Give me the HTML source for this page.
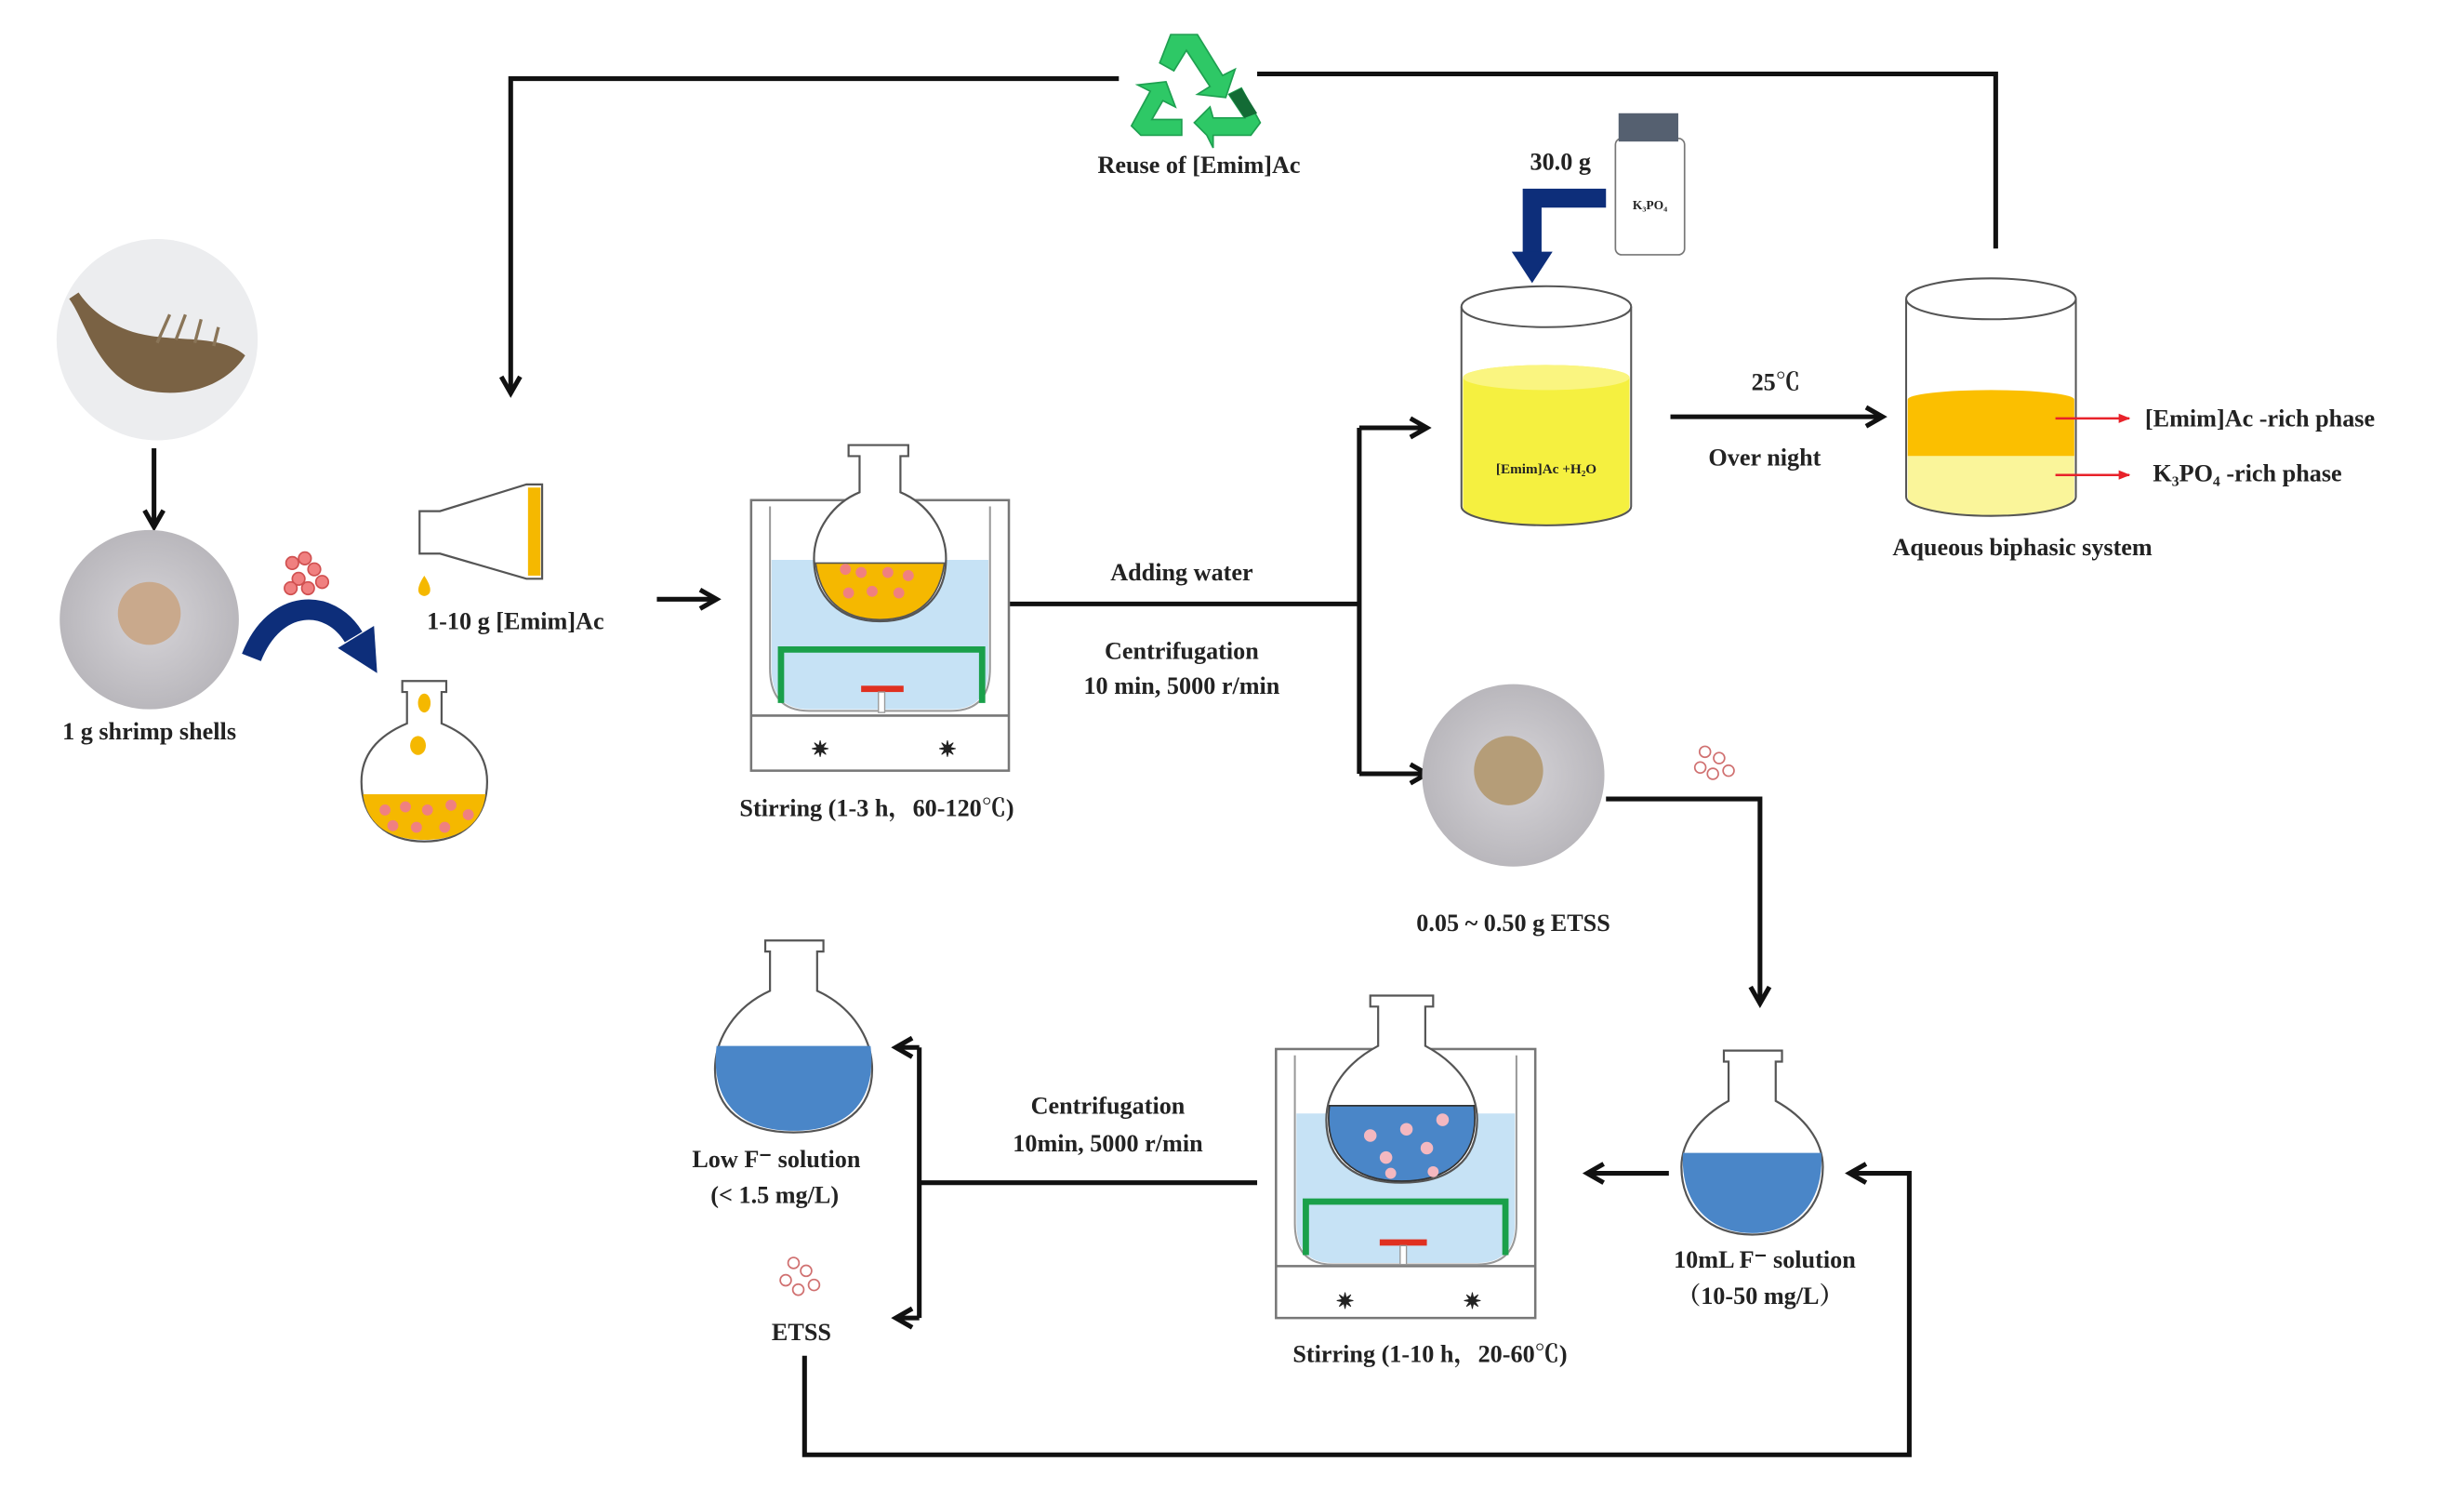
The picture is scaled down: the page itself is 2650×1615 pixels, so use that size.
<!DOCTYPE html>
<html><head><meta charset="utf-8"><style>
html,body{margin:0;padding:0;background:#fff;}
svg{display:block;}
text{font-family:"Liberation Serif","Noto Serif CJK SC",serif;font-weight:bold;fill:#222;font-size:15.5px;}
</style></head><body>
<svg width="2650" height="1615" viewBox="0 0 1568 955" preserveAspectRatio="none" xmlns="http://www.w3.org/2000/svg">
<defs>
<marker id="ah" viewBox="0 0 10 10" refX="8" refY="5" markerWidth="5" markerHeight="5" orient="auto"><path d="M1,1 L8,5 L1,9" fill="none" stroke="#111" stroke-width="2"/></marker>
<marker id="rh" viewBox="0 0 10 10" refX="9" refY="5" markerWidth="5" markerHeight="5" orient="auto"><path d="M0,1 L10,5 L0,9 z" fill="#e8222a"/></marker>
<radialGradient id="pg" cx="0.5" cy="0.5" r="0.5"><stop offset="0" stop-color="#d6d4d8"/><stop offset="1" stop-color="#b9b7bc"/></radialGradient>
</defs>
<g fill="none" stroke="#111" stroke-width="3">
<path d="M712,50 H325 V250" marker-end="url(#ah)"/>
<path d="M800,47 H1270 V158"/>
<line x1="98" y1="285" x2="98" y2="335" marker-end="url(#ah)"/>
<line x1="418" y1="381" x2="456" y2="381" marker-end="url(#ah)"/>
<path d="M642,384 H865"/>
<path d="M865,272 V492"/>
<path d="M865,272 H908" marker-end="url(#ah)"/>
<path d="M865,492 H908" marker-end="url(#ah)"/>
<line x1="1063" y1="265" x2="1198" y2="265" marker-end="url(#ah)"/>
<path d="M1022,508 H1120 V638" marker-end="url(#ah)"/>
<line x1="1062" y1="746" x2="1010" y2="746" marker-end="url(#ah)"/>
<path d="M512,862 V925 H1215 V746 H1177" marker-end="url(#ah)"/>
<path d="M800,752 H585"/>
<path d="M585,666 V838"/>
<path d="M585,666 H570" marker-end="url(#ah)"/>
<path d="M585,838 H570" marker-end="url(#ah)"/>
</g>
<g fill="#2ec866" stroke="#1ea050" stroke-width="1">
<path d="M745,22 L762,22 L778,48 L786,44 L780,62 L762,60 L770,55 L755,32 L747,45 L738,40 Z"/>
<path d="M720,80 L732,58 L724,54 L742,52 L748,68 L740,64 L733,76 L752,76 L752,86 L726,86 Z"/>
<path d="M768,86 L760,78 L770,68 L772,75 L792,75 L782,60 L790,56 L802,78 L796,86 L772,86 L772,94 Z"/>
</g>
<path d="M782,60 L790,56 L800,72 L792,75 Z" fill="#136b35"/>
<text x="763" y="110" text-anchor="middle">Reuse of [Emim]Ac</text>
<circle cx="100" cy="216" r="64" fill="#ecedef"/>
<path d="M44,190 C55,205 62,240 92,248 C120,254 145,244 156,226 C140,212 112,218 88,212 C72,208 58,198 50,186 Z" fill="#7a6244"/>
<path d="M100,218 l8,-18 M112,216 l6,-16 M124,218 l4,-15 M136,220 l3,-12" stroke="#8a7558" stroke-width="2"/>
<circle cx="95" cy="394" r="57" fill="url(#pg)"/>
<circle cx="95" cy="390" r="20" fill="#c9a98c"/>
<text x="95" y="470" text-anchor="middle">1 g shrimp shells</text>
<path d="M160,418 C175,380 210,380 225,405" fill="none" stroke="#0d2e7a" stroke-width="13"/>
<path d="M215,412 L240,428 L238,398 Z" fill="#0d2e7a"/>
<g fill="#f08080" stroke="#d05050" stroke-width="1"><circle cx="186" cy="358" r="4"/><circle cx="194" cy="355" r="4"/><circle cx="200" cy="362" r="4"/><circle cx="190" cy="368" r="4"/><circle cx="205" cy="370" r="4"/><circle cx="196" cy="374" r="4"/><circle cx="185" cy="374" r="4"/></g>
<path d="M267,325 H280 L335,308 H345 V368 H335 L280,352 H267 Z" fill="#fff" stroke="#555" stroke-width="1.3"/>
<rect x="336" y="310" width="8" height="56" fill="#f5b800"/>
<path d="M270,366 C266,372 264,378 270,379 C276,378 274,372 270,366 Z" fill="#f5b800"/>
<text x="328" y="400" text-anchor="middle">1-10 g [Emim]Ac</text>
<path d="M256,433 H284 V440 H281 V460 C300,468 310,480 310,497 C310,520 295,535 270,535 C245,535 230,520 230,497 C230,480 240,468 259,460 V440 H256 Z" fill="#fff" stroke="#555" stroke-width="1.3"/>
<path d="M231,505 H309 C307,522 295,534 270,534 C245,534 233,522 231,505 Z" fill="#f5b800"/>
<g fill="#f5b800"><ellipse cx="270" cy="447" rx="4" ry="6"/><ellipse cx="266" cy="474" rx="5" ry="6"/></g>
<g fill="#f08080"><circle cx="245" cy="515" r="3.5"/><circle cx="258" cy="513" r="3.5"/><circle cx="272" cy="515" r="3.5"/><circle cx="287" cy="512" r="3.5"/><circle cx="298" cy="518" r="3.5"/><circle cx="250" cy="525" r="3.5"/><circle cx="265" cy="526" r="3.5"/><circle cx="283" cy="526" r="3.5"/></g>
<rect x="478" y="318" width="164" height="172" fill="#fff" stroke="#777" stroke-width="1.5"/>
<line x1="478" y1="455" x2="642" y2="455" stroke="#777" stroke-width="1.5"/>
<path d="M490,322 V425 Q490,452 515,452 H605 Q630,452 630,425 V322" fill="none" stroke="#999" stroke-width="1.2"/>
<path d="M491,356 H629 V425 Q629,451 605,451 H515 Q491,451 491,425 Z" fill="#c6e2f5"/>
<path d="M497,447 V413 H625 V447" fill="none" stroke="#1aa04a" stroke-width="4"/>
<rect x="548" y="436" width="27" height="4" fill="#e03020"/>
<rect x="559" y="440" width="4" height="13" fill="#fff" stroke="#999" stroke-width="0.8"/>
<path d="M540,283 H578 V290 H573 V313 C590,320 602,337 602,355 C602,380 585,395 560,395 C535,395 518,380 518,355 C518,337 530,320 547,313 V290 H540 Z" fill="#fff" stroke="#555" stroke-width="1.3"/>
<path d="M519,358 H601 C598,380 585,394 560,394 C535,394 522,380 519,358 Z" fill="#f5b800" stroke="#555" stroke-width="1"/>
<g fill="#f08080"><circle cx="538" cy="362" r="3.5"/><circle cx="548" cy="364" r="3.5"/><circle cx="565" cy="364" r="3.5"/><circle cx="578" cy="366" r="3.5"/><circle cx="540" cy="377" r="3.5"/><circle cx="555" cy="376" r="3.5"/><circle cx="572" cy="377" r="3.5"/></g>
<text x="522" y="481" text-anchor="middle" style="font-size:14px">✷</text><text x="603" y="481" text-anchor="middle" style="font-size:14px">✷</text>
<text x="558" y="519" text-anchor="middle">Stirring (1-3 h，60-120℃)</text>
<text x="752" y="369" text-anchor="middle">Adding water</text>
<text x="752" y="419" text-anchor="middle">Centrifugation</text>
<text x="752" y="441" text-anchor="middle">10 min, 5000 r/min</text>
<rect x="1028" y="88" width="44" height="74" rx="4" fill="#fff" stroke="#777" stroke-width="1"/>
<rect x="1030" y="72" width="38" height="18" fill="#556070"/>
<text x="1050" y="133" text-anchor="middle" style="font-size:8px">K₃PO₄</text>
<text x="993" y="108" text-anchor="middle">30.0 g</text>
<path d="M1022,126 H975 V165" fill="none" stroke="#0d2e7a" stroke-width="12"/>
<path d="M962,160 L988,160 L975,180 Z" fill="#0d2e7a"/>
<path d="M931,240 A53,8 0 0 1 1037,240 V322 A53,12 0 0 1 931,322 Z" fill="#f5f040" stroke="none"/>
<ellipse cx="984" cy="240" rx="53" ry="8" fill="#faf580"/>
<path d="M930,195 V322 A54,12 0 0 0 1038,322 V195" fill="none" stroke="#555" stroke-width="1.2"/>
<ellipse cx="984" cy="195" rx="54" ry="13" fill="#fff" stroke="#555" stroke-width="1.2"/>
<text x="984" y="301" text-anchor="middle" style="font-size:9px">[Emim]Ac +H₂O</text>
<text x="1130" y="248" text-anchor="middle">25℃</text>
<text x="1123" y="296" text-anchor="middle">Over night</text>
<path d="M1214,254 A53,6 0 0 1 1320,254 V290 H1214 Z" fill="#fbbf00"/>
<path d="M1214,290 H1320 V316 A53,12 0 0 1 1214,316 Z" fill="#faf59a"/>
<path d="M1213,190 V316 A54,12 0 0 0 1321,316 V190" fill="none" stroke="#555" stroke-width="1.2"/>
<ellipse cx="1267" cy="190" rx="54" ry="13" fill="#fff" stroke="#555" stroke-width="1.2"/>
<line x1="1308" y1="266" x2="1355" y2="266" stroke="#e8222a" stroke-width="1.5" marker-end="url(#rh)"/>
<line x1="1308" y1="302" x2="1355" y2="302" stroke="#e8222a" stroke-width="1.5" marker-end="url(#rh)"/>
<text x="1365" y="271">[Emim]Ac -rich phase</text>
<text x="1370" y="306">K₃PO₄ -rich phase</text>
<text x="1287" y="353" text-anchor="middle">Aqueous biphasic system</text>
<circle cx="963" cy="493" r="58" fill="url(#pg)"/>
<circle cx="960" cy="490" r="22" fill="#b59d78"/>
<g fill="#fff" stroke="#d07070" stroke-width="1"><circle cx="1085" cy="478" r="3.5"/><circle cx="1094" cy="482" r="3.5"/><circle cx="1082" cy="488" r="3.5"/><circle cx="1090" cy="492" r="3.5"/><circle cx="1100" cy="490" r="3.5"/></g>
<text x="963" y="592" text-anchor="middle">0.05 ~ 0.50 g ETSS</text>
<path d="M1097,668 H1134 V675 H1130 V700 C1148,710 1160,725 1160,742 C1160,768 1142,785 1115,785 C1088,785 1070,768 1070,742 C1070,725 1082,710 1100,700 V675 H1097 Z" fill="#fff" stroke="#555" stroke-width="1.3"/>
<path d="M1071,733 H1159 C1161,765 1142,784 1115,784 C1088,784 1069,765 1071,733 Z" fill="#4a86c8"/>
<text x="1123" y="806" text-anchor="middle">10mL F⁻ solution</text>
<text x="1120" y="829" text-anchor="middle">（10-50 mg/L）</text>
<rect x="812" y="667" width="165" height="171" fill="#fff" stroke="#777" stroke-width="1.5"/>
<line x1="812" y1="805" x2="977" y2="805" stroke="#777" stroke-width="1.5"/>
<path d="M824,671 V778 Q824,804 848,804 H940 Q965,804 965,778 V671" fill="none" stroke="#999" stroke-width="1.2"/>
<path d="M825,708 H964 V778 Q964,803 940,803 H848 Q825,803 825,778 Z" fill="#c6e2f5"/>
<path d="M831,798 V764 H958 V798" fill="none" stroke="#1aa04a" stroke-width="4"/>
<rect x="878" y="788" width="30" height="4" fill="#e03020"/>
<rect x="891" y="792" width="4" height="12" fill="#fff" stroke="#999" stroke-width="0.8"/>
<path d="M872,633 H912 V640 H907 V665 C926,675 940,692 940,712 C940,738 922,752 892,752 C862,752 844,738 844,712 C844,692 858,675 877,665 V640 H872 Z" fill="#fff" stroke="#555" stroke-width="1.3"/>
<path d="M846,703 H938 C942,735 922,751 892,751 C862,751 842,735 846,703 Z" fill="#4a86c8" stroke="#333" stroke-width="1"/>
<g fill="#f4b8c0"><circle cx="872" cy="722" r="4"/><circle cx="882" cy="736" r="4"/><circle cx="895" cy="718" r="4"/><circle cx="908" cy="730" r="4"/><circle cx="918" cy="712" r="4"/><circle cx="885" cy="746" r="3.5"/><circle cx="912" cy="745" r="3.5"/></g>
<text x="856" y="832" text-anchor="middle" style="font-size:14px">✷</text><text x="937" y="832" text-anchor="middle" style="font-size:14px">✷</text>
<text x="910" y="866" text-anchor="middle">Stirring (1-10 h，20-60℃)</text>
<text x="705" y="708" text-anchor="middle">Centrifugation</text>
<text x="705" y="732" text-anchor="middle">10min, 5000 r/min</text>
<path d="M487,598 H524 V605 H520 V630 C542,640 555,660 555,680 C555,705 537,720 505,720 C473,720 455,705 455,680 C455,660 468,640 490,630 V605 H487 Z" fill="#fff" stroke="#555" stroke-width="1.3"/>
<path d="M456,665 H554 C558,700 540,719 505,719 C470,719 452,700 456,665 Z" fill="#4a86c8"/>
<text x="494" y="742" text-anchor="middle">Low F⁻ solution</text>
<text x="493" y="765" text-anchor="middle">(&lt; 1.5 mg/L)</text>
<g fill="#fff" stroke="#d07070" stroke-width="1"><circle cx="505" cy="803" r="3.5"/><circle cx="513" cy="808" r="3.5"/><circle cx="500" cy="814" r="3.5"/><circle cx="508" cy="820" r="3.5"/><circle cx="518" cy="817" r="3.5"/></g>
<text x="510" y="852" text-anchor="middle">ETSS</text>
</svg>
</body></html>
